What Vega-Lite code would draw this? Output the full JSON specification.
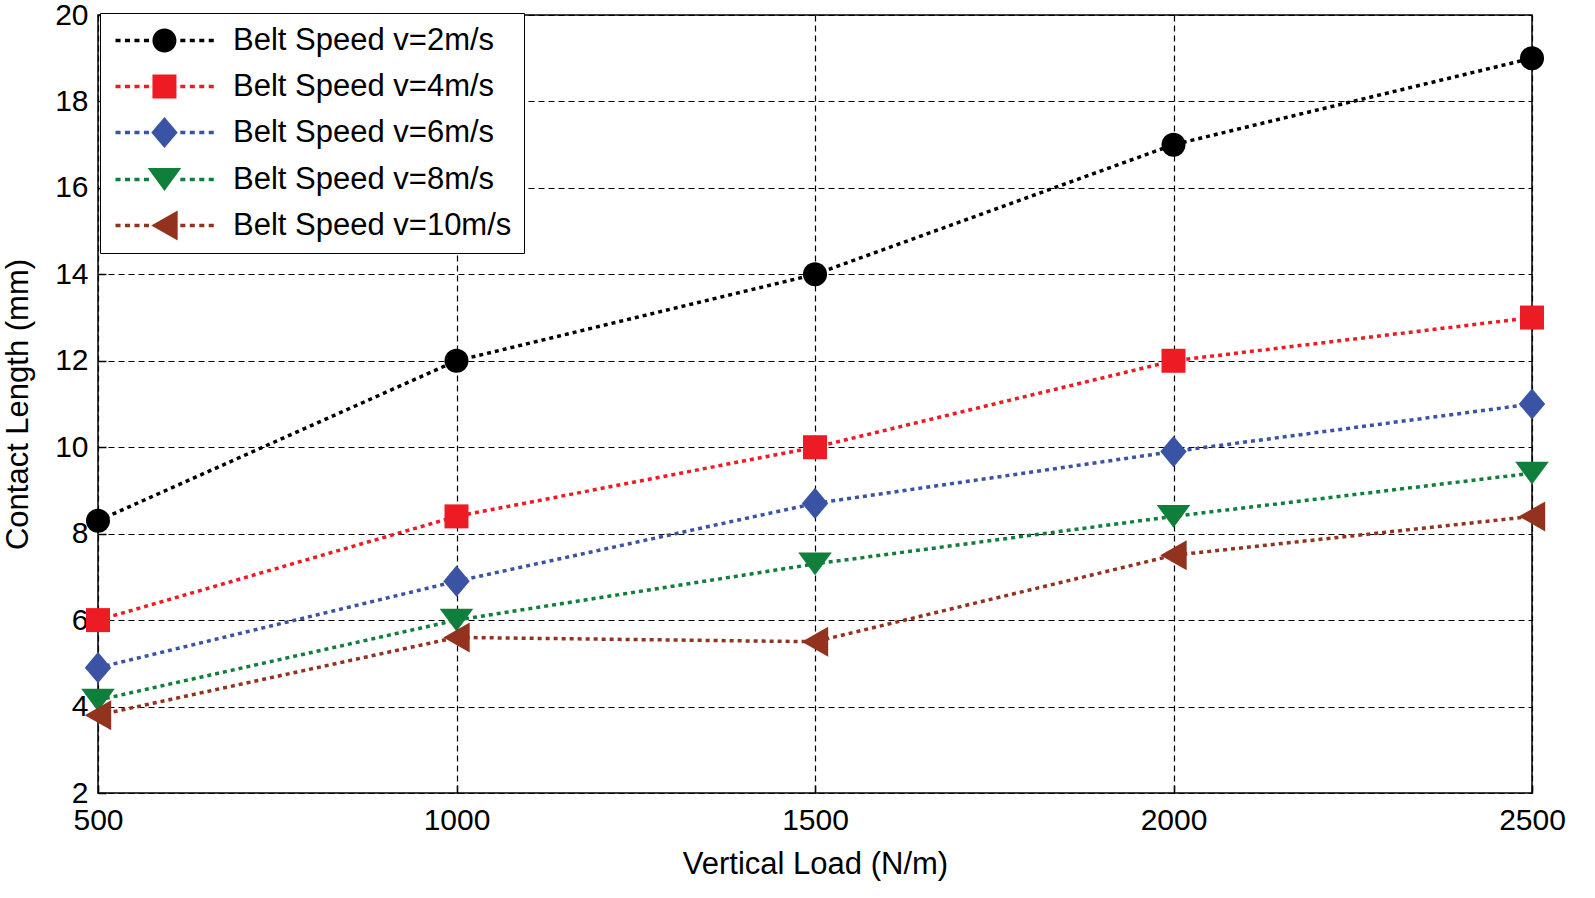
{
  "$schema": "https://vega.github.io/schema/vega-lite/v6.json",
  "width": 1434,
  "height": 778,
  "autosize": {"type": "none"},
  "padding": {"left": 98, "top": 15, "right": 63, "bottom": 105},
  "background": "white",
  "data": {
    "values": [
      {"load": 500, "len": 8.3, "series": "Belt Speed v=2m/s"},
      {"load": 1000, "len": 12.0, "series": "Belt Speed v=2m/s"},
      {"load": 1500, "len": 14.0, "series": "Belt Speed v=2m/s"},
      {"load": 2000, "len": 17.0, "series": "Belt Speed v=2m/s"},
      {"load": 2500, "len": 19.0, "series": "Belt Speed v=2m/s"},
      {"load": 500, "len": 6.0, "series": "Belt Speed v=4m/s"},
      {"load": 1000, "len": 8.4, "series": "Belt Speed v=4m/s"},
      {"load": 1500, "len": 10.0, "series": "Belt Speed v=4m/s"},
      {"load": 2000, "len": 12.0, "series": "Belt Speed v=4m/s"},
      {"load": 2500, "len": 13.0, "series": "Belt Speed v=4m/s"},
      {"load": 500, "len": 4.9, "series": "Belt Speed v=6m/s"},
      {"load": 1000, "len": 6.9, "series": "Belt Speed v=6m/s"},
      {"load": 1500, "len": 8.7, "series": "Belt Speed v=6m/s"},
      {"load": 2000, "len": 9.9, "series": "Belt Speed v=6m/s"},
      {"load": 2500, "len": 11.0, "series": "Belt Speed v=6m/s"},
      {"load": 500, "len": 4.15, "series": "Belt Speed v=8m/s"},
      {"load": 1000, "len": 6.0, "series": "Belt Speed v=8m/s"},
      {"load": 1500, "len": 7.3, "series": "Belt Speed v=8m/s"},
      {"load": 2000, "len": 8.4, "series": "Belt Speed v=8m/s"},
      {"load": 2500, "len": 9.4, "series": "Belt Speed v=8m/s"},
      {"load": 500, "len": 3.8, "series": "Belt Speed v=10m/s"},
      {"load": 1000, "len": 5.6, "series": "Belt Speed v=10m/s"},
      {"load": 1500, "len": 5.5, "series": "Belt Speed v=10m/s"},
      {"load": 2000, "len": 7.5, "series": "Belt Speed v=10m/s"},
      {"load": 2500, "len": 8.4, "series": "Belt Speed v=10m/s"}
    ]
  },
  "encoding": {
    "x": {
      "field": "load",
      "type": "quantitative",
      "title": "Vertical Load (N/m)",
      "scale": {"domain": [500, 2500], "nice": false, "zero": false},
      "axis": {
        "values": [500, 1000, 1500, 2000, 2500],
        "format": "d",
        "grid": true,
        "gridColor": "#000",
        "gridDash": [6, 4],
        "gridWidth": 1.2,
        "gridOpacity": 1,
        "ticks": true,
        "tickSize": -8,
        "tickColor": "#000",
        "tickWidth": 1.5,
        "domain": false,
        "labelPadding": 20,
        "labelFlush": false,
        "labelOverlap": false,
        "titlePadding": 14
      }
    },
    "y": {
      "field": "len",
      "type": "quantitative",
      "title": "Contact Length (mm)",
      "scale": {"domain": [2, 20], "nice": false, "zero": false},
      "axis": {
        "values": [2, 4, 6, 8, 10, 12, 14, 16, 18, 20],
        "grid": true,
        "gridColor": "#000",
        "gridDash": [6, 4],
        "gridWidth": 1.2,
        "gridOpacity": 1,
        "ticks": true,
        "tickSize": -8,
        "tickColor": "#000",
        "tickWidth": 1.5,
        "domain": false,
        "labelPadding": 18,
        "labelFlush": false,
        "labelOverlap": false,
        "titleX": -64,
        "titleY": 389
      }
    }
  },
  "layer": [
    {
      "mark": {"type": "line", "strokeDash": [4, 4], "strokeWidth": 3.5},
      "encoding": {
        "color": {
          "field": "series",
          "type": "nominal",
          "scale": {
            "domain": ["Belt Speed v=2m/s", "Belt Speed v=4m/s", "Belt Speed v=6m/s", "Belt Speed v=8m/s", "Belt Speed v=10m/s"],
            "range": ["#000000", "#ed1c24", "#3b53a4", "#0f7f3b", "#93331f"]
          },
          "legend": null
        },
        "detail": {"field": "series"}
      }
    },
    {
      "mark": {"type": "point", "filled": true, "opacity": 1, "size": 576},
      "encoding": {
        "color": {
          "field": "series",
          "type": "nominal",
          "scale": {
            "domain": ["Belt Speed v=2m/s", "Belt Speed v=4m/s", "Belt Speed v=6m/s", "Belt Speed v=8m/s", "Belt Speed v=10m/s"],
            "range": ["#000000", "#ed1c24", "#3b53a4", "#0f7f3b", "#93331f"]
          },
          "legend": null
        },
        "shape": {
          "field": "series",
          "type": "nominal",
          "scale": {
            "domain": ["Belt Speed v=2m/s", "Belt Speed v=4m/s", "Belt Speed v=6m/s", "Belt Speed v=8m/s", "Belt Speed v=10m/s"],
            "range": [
              "circle",
              "M-1,-1H1V1H-1Z",
              "M-1.1,0L0,-1.3L1.1,0L0,1.3Z",
              "M-1.4,-0.95L1.4,-0.95L0,0.95Z",
              "M-1.1,0L1.1,-1.25L1.1,1.25Z"
            ]
          },
          "legend": null
        }
      }
    },
    {
      "transform": [{"filter": "false"}],
      "mark": {"type": "point", "filled": true, "opacity": 1, "size": 576},
      "encoding": {
        "color": {
          "field": "series",
          "type": "nominal",
          "scale": {
            "domain": ["Belt Speed v=2m/s", "Belt Speed v=4m/s", "Belt Speed v=6m/s", "Belt Speed v=8m/s", "Belt Speed v=10m/s"],
            "range": ["#000000", "#ed1c24", "#3b53a4", "#0f7f3b", "#93331f"]
          },
          "legend": {
            "title": null,
            "orient": "none",
            "legendX": 2,
            "legendY": -2,
            "padding": 12,
            "fillColor": "white",
            "strokeColor": "#000",
            "symbolSize": 576,
            "symbolOpacity": 1,
            "symbolStrokeWidth": 0,
            "labelFont": "Liberation Sans",
            "labelFontSize": 31,
            "labelColor": "#000",
            "labelOffset": 90,
            "labelLimit": 400,
            "rowPadding": 14
          }
        },
        "shape": {
          "field": "series",
          "type": "nominal",
          "scale": {
            "domain": ["Belt Speed v=2m/s", "Belt Speed v=4m/s", "Belt Speed v=6m/s", "Belt Speed v=8m/s", "Belt Speed v=10m/s"],
            "range": [
              "M-1,-0.14h0.42v0.28h-0.42Z M-0.21,-0.14h0.42v0.28h-0.42Z M0.58,-0.14h0.42v0.28h-0.42Z M1.37,-0.14h0.42v0.28h-0.42Z M4.4,-0.14h0.42v0.28h-0.42Z M5.19,-0.14h0.42v0.28h-0.42Z M5.98,-0.14h0.42v0.28h-0.42Z M6.77,-0.14h0.42v0.28h-0.42Z M2.08,0A1,1 0 1,1 4.08,0A1,1 0 1,1 2.08,0Z",
              "M-1,-0.14h0.42v0.28h-0.42Z M-0.21,-0.14h0.42v0.28h-0.42Z M0.58,-0.14h0.42v0.28h-0.42Z M1.37,-0.14h0.42v0.28h-0.42Z M4.4,-0.14h0.42v0.28h-0.42Z M5.19,-0.14h0.42v0.28h-0.42Z M5.98,-0.14h0.42v0.28h-0.42Z M6.77,-0.14h0.42v0.28h-0.42Z M2.08,-1H4.08V1H2.08Z",
              "M-1,-0.14h0.42v0.28h-0.42Z M-0.21,-0.14h0.42v0.28h-0.42Z M0.58,-0.14h0.42v0.28h-0.42Z M1.37,-0.14h0.42v0.28h-0.42Z M4.4,-0.14h0.42v0.28h-0.42Z M5.19,-0.14h0.42v0.28h-0.42Z M5.98,-0.14h0.42v0.28h-0.42Z M6.77,-0.14h0.42v0.28h-0.42Z M1.98,0L3.08,-1.3L4.18,0L3.08,1.3Z",
              "M-1,-0.14h0.42v0.28h-0.42Z M-0.21,-0.14h0.42v0.28h-0.42Z M0.58,-0.14h0.42v0.28h-0.42Z M1.37,-0.14h0.42v0.28h-0.42Z M4.4,-0.14h0.42v0.28h-0.42Z M5.19,-0.14h0.42v0.28h-0.42Z M5.98,-0.14h0.42v0.28h-0.42Z M6.77,-0.14h0.42v0.28h-0.42Z M1.68,-0.95L4.48,-0.95L3.08,0.95Z",
              "M-1,-0.14h0.42v0.28h-0.42Z M-0.21,-0.14h0.42v0.28h-0.42Z M0.58,-0.14h0.42v0.28h-0.42Z M1.37,-0.14h0.42v0.28h-0.42Z M4.4,-0.14h0.42v0.28h-0.42Z M5.19,-0.14h0.42v0.28h-0.42Z M5.98,-0.14h0.42v0.28h-0.42Z M6.77,-0.14h0.42v0.28h-0.42Z M1.98,0L4.18,-1.25L4.18,1.25Z"
            ]
          }
        }
      }
    }
  ],
  "resolve": {
    "scale": {"color": "independent", "shape": "independent"},
    "legend": {"color": "independent", "shape": "independent"}
  },
  "config": {
    "view": {"stroke": "#000", "strokeWidth": 1.5},
    "font": "Liberation Sans",
    "axis": {
      "labelFont": "Liberation Sans",
      "labelFontSize": 30,
      "labelColor": "#000",
      "titleFont": "Liberation Sans",
      "titleFontSize": 31,
      "titleFontWeight": "normal",
      "titleColor": "#000"
    }
  }
}
